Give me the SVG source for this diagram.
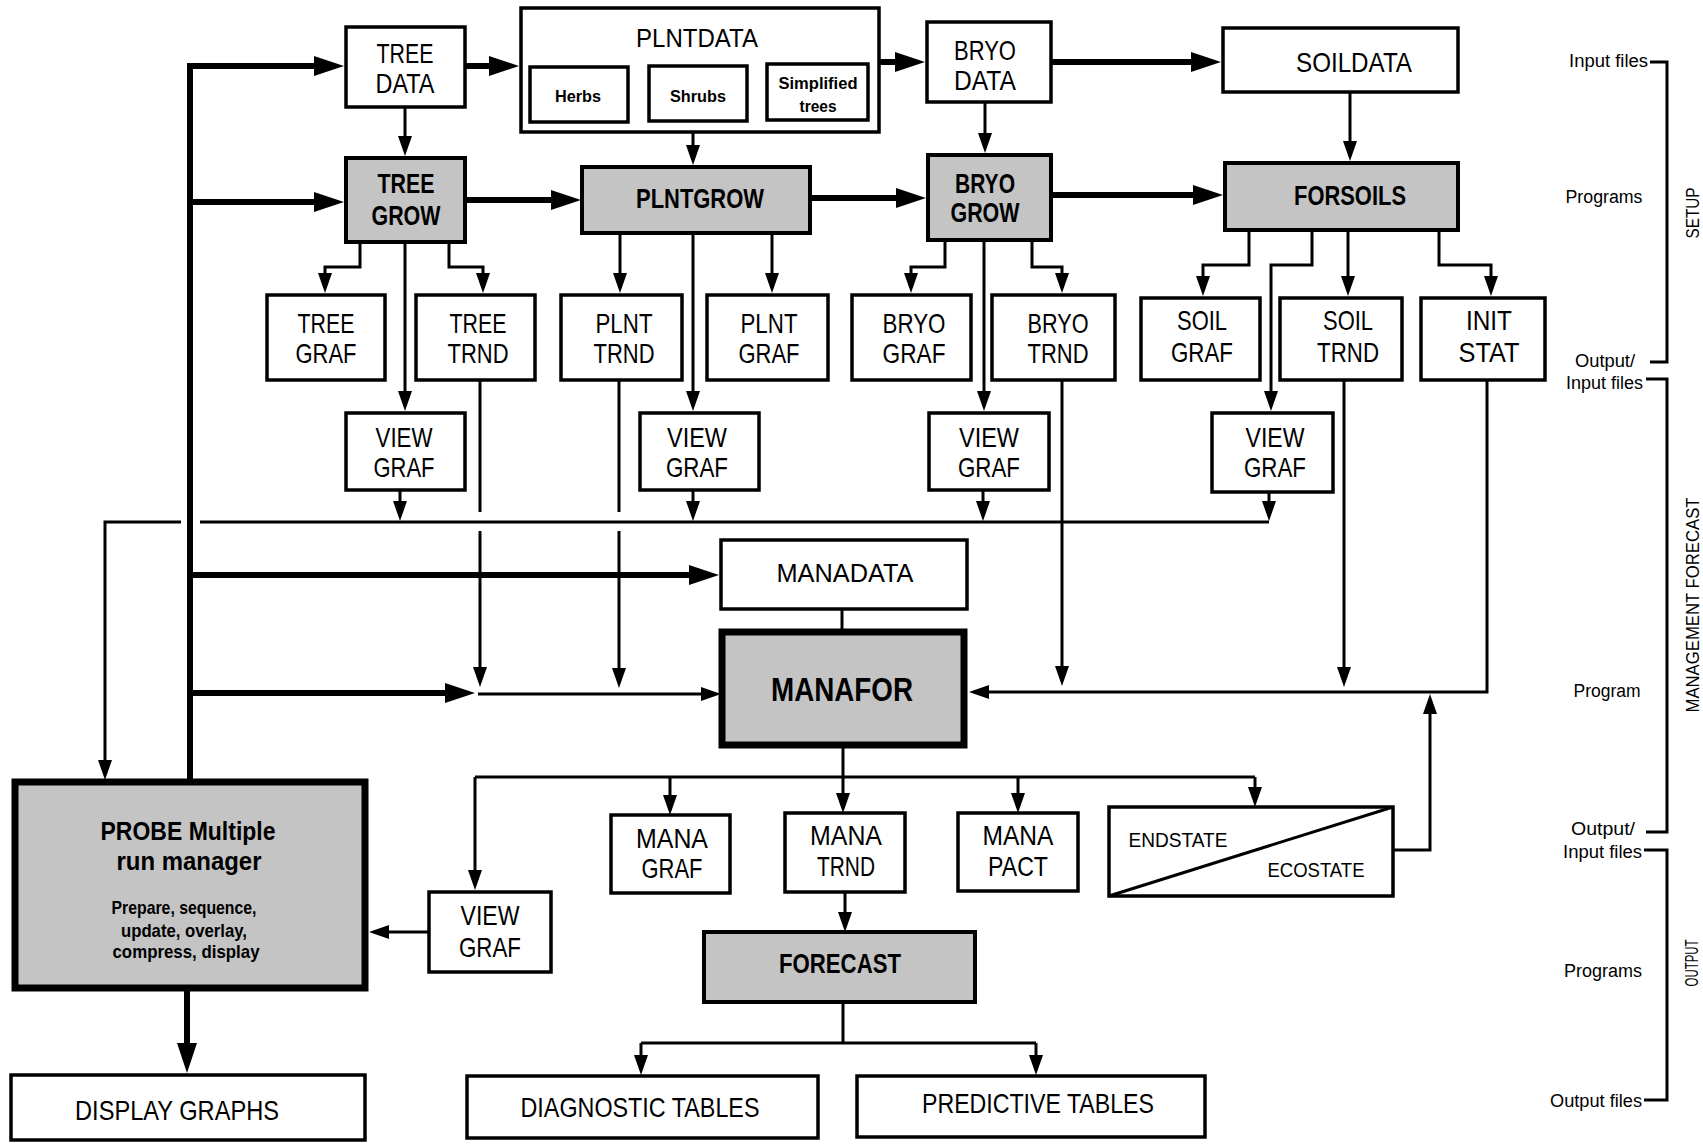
<svg xmlns="http://www.w3.org/2000/svg" width="1703" height="1144" viewBox="0 0 1703 1144">
<style>
.box{fill:#fff;stroke:#000;stroke-width:3.5}
.prog{fill:#c4c4c4;stroke:#000;stroke-width:4}
.big{fill:#c4c4c4;stroke:#000;stroke-width:7}
text{font-family:"Liberation Sans",Arial,sans-serif;fill:#000;text-anchor:middle}
.l{font-size:28px}
.m{font-size:26px}
.b{font-size:28px;font-weight:bold}
.sm{font-size:17px;font-weight:bold}
.sd{font-size:18px}
.e{text-anchor:end}
.c{fill:none;stroke:#000;stroke-width:3}
.k{fill:none;stroke:#000;stroke-width:6}
</style>
<defs>
<marker id="a" markerUnits="userSpaceOnUse" markerWidth="20" markerHeight="14" refX="15" refY="7" orient="auto"><path d="M0,0 L20,7 L0,14 Z"/></marker>
<marker id="A" markerUnits="userSpaceOnUse" markerWidth="30" markerHeight="20" refX="20" refY="10" orient="auto"><path d="M0,0 L30,10 L0,20 Z"/></marker>
</defs>
<rect width="1703" height="1144" fill="#fff"/>

<g id="connectors">
<g class="k">
<path d="M190,63 V782"/>
<path d="M190,66 H334" marker-end="url(#A)"/>
<path d="M190,202 H334" marker-end="url(#A)"/>
<path d="M190,575 H709" marker-end="url(#A)"/>
<path d="M190,693 H465" marker-end="url(#A)"/>
<path d="M465,66 H509" marker-end="url(#A)"/>
<path d="M879,62 H915" marker-end="url(#A)"/>
<path d="M1051,62 H1211" marker-end="url(#A)"/>
<path d="M465,200 H571" marker-end="url(#A)"/>
<path d="M810,198 H916" marker-end="url(#A)"/>
<path d="M1051,195 H1213" marker-end="url(#A)"/>
<path d="M187,988 V1063" marker-end="url(#A)"/>
</g>
<g class="c">
<path d="M405,107 V151" marker-end="url(#a)"/>
<path d="M693,132 V160" marker-end="url(#a)"/>
<path d="M985,102 V148" marker-end="url(#a)"/>
<path d="M1350,92 V156" marker-end="url(#a)"/>
<path d="M360,242 V267 H325 V288" marker-end="url(#a)"/>
<path d="M405,242 V406" marker-end="url(#a)"/>
<path d="M449,242 V267 H483 V288" marker-end="url(#a)"/>
<path d="M620,233 V288" marker-end="url(#a)"/>
<path d="M693,233 V406" marker-end="url(#a)"/>
<path d="M772,233 V288" marker-end="url(#a)"/>
<path d="M945,240 V267 H911 V288" marker-end="url(#a)"/>
<path d="M984,240 V406" marker-end="url(#a)"/>
<path d="M1032,240 V267 H1062 V288" marker-end="url(#a)"/>
<path d="M1249,230 V265 H1203 V291" marker-end="url(#a)"/>
<path d="M1312,230 V265 H1271 V406" marker-end="url(#a)"/>
<path d="M1348,230 V291" marker-end="url(#a)"/>
<path d="M1439,230 V265 H1491 V291" marker-end="url(#a)"/>
<path d="M400,490 V516" marker-end="url(#a)"/>
<path d="M693,490 V516" marker-end="url(#a)"/>
<path d="M983,490 V516" marker-end="url(#a)"/>
<path d="M1269,492 V516" marker-end="url(#a)"/>
<path d="M1269,522 H200"/>
<path d="M181,522 H105 V775" marker-end="url(#a)"/>
<path d="M480,380 V512"/>
<path d="M480,531 V682" marker-end="url(#a)"/>
<path d="M619,380 V512"/>
<path d="M619,531 V683" marker-end="url(#a)"/>
<path d="M1062,380 V681" marker-end="url(#a)"/>
<path d="M1344,380 V682" marker-end="url(#a)"/>
<path d="M1487,380 V692 H974" marker-end="url(#a)"/>
<path d="M478,694 H716" marker-end="url(#a)"/>
<path d="M1393,850 H1430 V699" marker-end="url(#a)"/>
<path d="M842,609 V632"/>
<path d="M843,745 V808" marker-end="url(#a)"/>
<path d="M475,777 H1255"/>
<path d="M475,777 V885" marker-end="url(#a)"/>
<path d="M670,777 V810" marker-end="url(#a)"/>
<path d="M1018,777 V808" marker-end="url(#a)"/>
<path d="M1255,777 V802" marker-end="url(#a)"/>
<path d="M429,932 H374" marker-end="url(#a)"/>
<path d="M845,892 V927" marker-end="url(#a)"/>
<path d="M843,1002 V1043"/>
<path d="M641,1043 H1036"/>
<path d="M641,1043 V1070" marker-end="url(#a)"/>
<path d="M1036,1043 V1070" marker-end="url(#a)"/>
<path d="M1650,62 H1667 V362 H1650"/>
<path d="M1646,379 H1667 V832 H1646"/>
<path d="M1644,850 H1667 V1100 H1644"/>
</g>
</g>

<g id="tree-data"><rect class="box" x="346" y="27" width="119" height="80"/><text class="l" x="405" y="63" textLength="57" lengthAdjust="spacingAndGlyphs">TREE</text><text class="l" x="405" y="93" textLength="59" lengthAdjust="spacingAndGlyphs">DATA</text></g>
<g id="plntdata"><rect class="box" x="521" y="8" width="358" height="124"/><text class="m" x="697" y="47" textLength="122" lengthAdjust="spacingAndGlyphs">PLNTDATA</text>
<g id="herbs"><rect class="box" x="530" y="67" width="98" height="55"/><text class="sm" x="578" y="102" textLength="46" lengthAdjust="spacingAndGlyphs">Herbs</text></g>
<g id="shrubs"><rect class="box" x="649" y="66" width="98" height="55"/><text class="sm" x="698" y="102" textLength="56" lengthAdjust="spacingAndGlyphs">Shrubs</text></g>
<g id="simplified-trees"><rect class="box" x="767" y="64" width="101" height="56"/><text class="sm" x="818" y="89" textLength="79" lengthAdjust="spacingAndGlyphs">Simplified</text><text class="sm" x="818" y="112" textLength="37" lengthAdjust="spacingAndGlyphs">trees</text></g>
</g>
<g id="bryo-data"><rect class="box" x="927" y="22" width="124" height="80"/><text class="l" x="985" y="60" textLength="62" lengthAdjust="spacingAndGlyphs">BRYO</text><text class="l" x="985" y="90" textLength="62" lengthAdjust="spacingAndGlyphs">DATA</text></g>
<g id="soildata"><rect class="box" x="1223" y="28" width="235" height="64"/><text class="l" x="1354" y="72" textLength="116" lengthAdjust="spacingAndGlyphs">SOILDATA</text></g>

<g id="tree-grow"><rect class="prog" x="346" y="158" width="119" height="84"/><text class="b" x="406" y="193" textLength="57" lengthAdjust="spacingAndGlyphs">TREE</text><text class="b" x="406" y="225" textLength="69" lengthAdjust="spacingAndGlyphs">GROW</text></g>
<g id="plntgrow"><rect class="prog" x="582" y="167" width="228" height="66"/><text class="b" x="700" y="208" textLength="128" lengthAdjust="spacingAndGlyphs">PLNTGROW</text></g>
<g id="bryo-grow"><rect class="prog" x="928" y="155" width="123" height="85"/><text class="b" x="985" y="193" textLength="60" lengthAdjust="spacingAndGlyphs">BRYO</text><text class="b" x="985" y="222" textLength="69" lengthAdjust="spacingAndGlyphs">GROW</text></g>
<g id="forsoils"><rect class="prog" x="1225" y="163" width="233" height="67"/><text class="b" x="1350" y="205" textLength="112" lengthAdjust="spacingAndGlyphs">FORSOILS</text></g>

<g id="tree-graf"><rect class="box" x="267" y="295" width="118" height="85"/><text class="l" x="326" y="333" textLength="57" lengthAdjust="spacingAndGlyphs">TREE</text><text class="l" x="326" y="363" textLength="61" lengthAdjust="spacingAndGlyphs">GRAF</text></g>
<g id="tree-trnd"><rect class="box" x="416" y="295" width="119" height="85"/><text class="l" x="478" y="333" textLength="57" lengthAdjust="spacingAndGlyphs">TREE</text><text class="l" x="478" y="363" textLength="61" lengthAdjust="spacingAndGlyphs">TRND</text></g>
<g id="plnt-trnd"><rect class="box" x="561" y="295" width="121" height="85"/><text class="l" x="624" y="333" textLength="57" lengthAdjust="spacingAndGlyphs">PLNT</text><text class="l" x="624" y="363" textLength="61" lengthAdjust="spacingAndGlyphs">TRND</text></g>
<g id="plnt-graf"><rect class="box" x="707" y="295" width="121" height="85"/><text class="l" x="769" y="333" textLength="57" lengthAdjust="spacingAndGlyphs">PLNT</text><text class="l" x="769" y="363" textLength="61" lengthAdjust="spacingAndGlyphs">GRAF</text></g>
<g id="bryo-graf"><rect class="box" x="852" y="295" width="119" height="85"/><text class="l" x="914" y="333" textLength="63" lengthAdjust="spacingAndGlyphs">BRYO</text><text class="l" x="914" y="363" textLength="63" lengthAdjust="spacingAndGlyphs">GRAF</text></g>
<g id="bryo-trnd"><rect class="box" x="992" y="295" width="123" height="85"/><text class="l" x="1058" y="333" textLength="61" lengthAdjust="spacingAndGlyphs">BRYO</text><text class="l" x="1058" y="363" textLength="61" lengthAdjust="spacingAndGlyphs">TRND</text></g>
<g id="soil-graf"><rect class="box" x="1141" y="298" width="119" height="82"/><text class="l" x="1202" y="330" textLength="50" lengthAdjust="spacingAndGlyphs">SOIL</text><text class="l" x="1202" y="362" textLength="62" lengthAdjust="spacingAndGlyphs">GRAF</text></g>
<g id="soil-trnd"><rect class="box" x="1280" y="298" width="122" height="82"/><text class="l" x="1348" y="330" textLength="50" lengthAdjust="spacingAndGlyphs">SOIL</text><text class="l" x="1348" y="362" textLength="62" lengthAdjust="spacingAndGlyphs">TRND</text></g>
<g id="init-stat"><rect class="box" x="1421" y="298" width="124" height="82"/><text class="l" x="1489" y="330" textLength="46" lengthAdjust="spacingAndGlyphs">INIT</text><text class="l" x="1489" y="362" textLength="61" lengthAdjust="spacingAndGlyphs">STAT</text></g>

<g id="view-graf-tree"><rect class="box" x="346" y="413" width="119" height="77"/><text class="l" x="404" y="447" textLength="57" lengthAdjust="spacingAndGlyphs">VIEW</text><text class="l" x="404" y="477" textLength="61" lengthAdjust="spacingAndGlyphs">GRAF</text></g>
<g id="view-graf-plnt"><rect class="box" x="640" y="413" width="119" height="77"/><text class="l" x="697" y="447" textLength="60" lengthAdjust="spacingAndGlyphs">VIEW</text><text class="l" x="697" y="477" textLength="62" lengthAdjust="spacingAndGlyphs">GRAF</text></g>
<g id="view-graf-bryo"><rect class="box" x="929" y="413" width="120" height="77"/><text class="l" x="989" y="447" textLength="60" lengthAdjust="spacingAndGlyphs">VIEW</text><text class="l" x="989" y="477" textLength="62" lengthAdjust="spacingAndGlyphs">GRAF</text></g>
<g id="view-graf-soil"><rect class="box" x="1212" y="413" width="121" height="79"/><text class="l" x="1275" y="447" textLength="59" lengthAdjust="spacingAndGlyphs">VIEW</text><text class="l" x="1275" y="477" textLength="62" lengthAdjust="spacingAndGlyphs">GRAF</text></g>

<g id="manadata"><rect class="box" x="721" y="540" width="246" height="69"/><text class="m" x="845" y="582" textLength="137" lengthAdjust="spacingAndGlyphs">MANADATA</text></g>
<g id="manafor"><rect class="big" x="722" y="632" width="242" height="113"/><text x="842" y="701" font-size="34" font-weight="bold" textLength="142" lengthAdjust="spacingAndGlyphs">MANAFOR</text></g>

<g id="probe"><rect class="big" x="15" y="782" width="350" height="206"/>
<text x="188" y="840" font-size="26" font-weight="bold" textLength="175" lengthAdjust="spacingAndGlyphs">PROBE Multiple</text>
<text x="189" y="870" font-size="26" font-weight="bold" textLength="145" lengthAdjust="spacingAndGlyphs">run manager</text>
<text x="184" y="914" font-size="19" font-weight="bold" textLength="145" lengthAdjust="spacingAndGlyphs">Prepare, sequence,</text>
<text x="184" y="937" font-size="19" font-weight="bold" textLength="126" lengthAdjust="spacingAndGlyphs">update, overlay,</text>
<text x="186" y="958" font-size="19" font-weight="bold" textLength="147" lengthAdjust="spacingAndGlyphs">compress, display</text></g>
<g id="view-graf-out"><rect class="box" x="429" y="892" width="122" height="80"/><text class="l" x="490" y="925" textLength="59" lengthAdjust="spacingAndGlyphs">VIEW</text><text class="l" x="490" y="957" textLength="62" lengthAdjust="spacingAndGlyphs">GRAF</text></g>

<g id="mana-graf"><rect class="box" x="611" y="815" width="119" height="78"/><text class="l" x="672" y="848" textLength="72" lengthAdjust="spacingAndGlyphs">MANA</text><text class="l" x="672" y="878" textLength="61" lengthAdjust="spacingAndGlyphs">GRAF</text></g>
<g id="mana-trnd"><rect class="box" x="785" y="813" width="120" height="79"/><text class="l" x="846" y="845" textLength="72" lengthAdjust="spacingAndGlyphs">MANA</text><text class="l" x="846" y="876" textLength="58" lengthAdjust="spacingAndGlyphs">TRND</text></g>
<g id="mana-pact"><rect class="box" x="958" y="813" width="120" height="78"/><text class="l" x="1018" y="845" textLength="71" lengthAdjust="spacingAndGlyphs">MANA</text><text class="l" x="1018" y="876" textLength="60" lengthAdjust="spacingAndGlyphs">PACT</text></g>
<g id="endstate-ecostate"><rect class="box" x="1109" y="807" width="284" height="89"/><path d="M1109,896 L1393,807" class="c"/><text x="1178" y="847" font-size="21" textLength="99" lengthAdjust="spacingAndGlyphs">ENDSTATE</text><text x="1316" y="877" font-size="21" textLength="97" lengthAdjust="spacingAndGlyphs">ECOSTATE</text></g>

<g id="forecast"><rect class="prog" x="704" y="932" width="271" height="70"/><text class="b" x="840" y="973" textLength="122" lengthAdjust="spacingAndGlyphs">FORECAST</text></g>
<g id="display-graphs"><rect class="box" x="11" y="1075" width="354" height="65"/><text class="l" x="177" y="1120" textLength="204" lengthAdjust="spacingAndGlyphs">DISPLAY GRAPHS</text></g>
<g id="diagnostic-tables"><rect class="box" x="467" y="1076" width="351" height="62"/><text class="l" x="640" y="1117" textLength="239" lengthAdjust="spacingAndGlyphs">DIAGNOSTIC TABLES</text></g>
<g id="predictive-tables"><rect class="box" x="857" y="1076" width="348" height="61"/><text class="l" x="1038" y="1113" textLength="232" lengthAdjust="spacingAndGlyphs">PREDICTIVE TABLES</text></g>

<g id="side-labels">
<text class="sd e" x="1648" y="67" textLength="79" lengthAdjust="spacingAndGlyphs">Input files</text>
<text class="sd" x="1604" y="203" textLength="77" lengthAdjust="spacingAndGlyphs">Programs</text>
<text class="sd" x="1605" y="367" textLength="60" lengthAdjust="spacingAndGlyphs">Output/</text>
<text class="sd e" x="1643" y="389" textLength="77" lengthAdjust="spacingAndGlyphs">Input files</text>
<text class="sd" x="1607" y="697" textLength="67" lengthAdjust="spacingAndGlyphs">Program</text>
<text class="sd" x="1603" y="835" textLength="64" lengthAdjust="spacingAndGlyphs">Output/</text>
<text class="sd e" x="1642" y="858" textLength="79" lengthAdjust="spacingAndGlyphs">Input files</text>
<text class="sd" x="1603" y="977" textLength="78" lengthAdjust="spacingAndGlyphs">Programs</text>
<text class="sd e" x="1642" y="1107" textLength="92" lengthAdjust="spacingAndGlyphs">Output files</text>
<text class="sd" transform="translate(1699,213) rotate(-90)" textLength="51" lengthAdjust="spacingAndGlyphs">SETUP</text>
<text class="sd" transform="translate(1699,605) rotate(-90)" textLength="215" lengthAdjust="spacingAndGlyphs">MANAGEMENT FORECAST</text>
<text class="sd" transform="translate(1698,963) rotate(-90)" textLength="47" lengthAdjust="spacingAndGlyphs">OUTPUT</text>
</g>
</svg>
